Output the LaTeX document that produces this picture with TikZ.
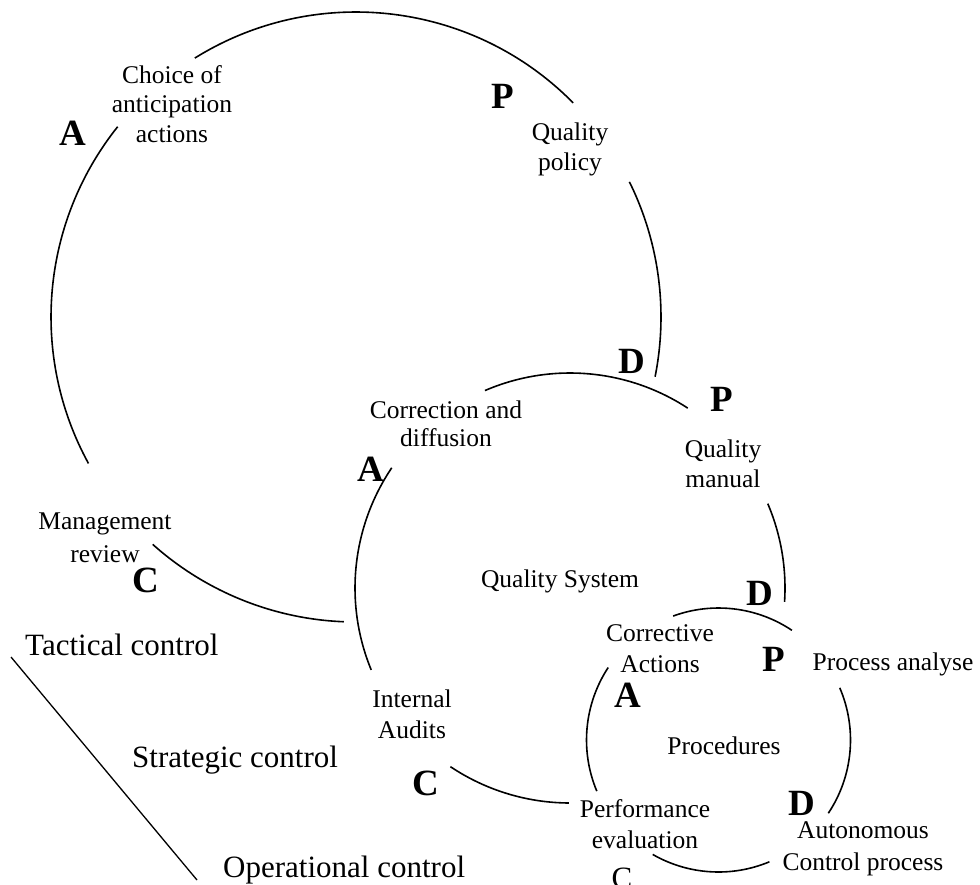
\documentclass[tikz,border=0pt]{standalone}
\usepackage{fontspec}
\setmainfont{Liberation Serif}
\begin{document}
\begin{tikzpicture}[x=1pt,y=-1pt,
  arcline/.style={line width=1.6pt},
  lbl/.style={font=\fontsize{25.5}{31}\selectfont, align=center, inner sep=0pt, anchor=base},
  biglbl/.style={font=\fontsize{31}{36}\selectfont, inner sep=0pt, anchor=base west},
  pdca/.style={font=\fontsize{37}{40}\selectfont\bfseries, inner sep=0pt, anchor=base}]
\useasboundingbox (0,0) rectangle (980,884);
% circle centres
\coordinate (oc) at (356,317);
\coordinate (mc) at (570,588);
\coordinate (sc) at (718.5,740);
% outer circle
\draw[arcline] ([shift={(-121.9:305)}]oc) arc[start angle=-121.9, end angle=-44.6, radius=305];
\draw[arcline] ([shift={(-26.3:305)}]oc) arc[start angle=-26.3, end angle=11.3, radius=305];
\draw[arcline] ([shift={(-141.4:305)}]oc) arc[start angle=-141.4, end angle=-208.7, radius=305];
\draw[arcline] ([shift={(131.8:305)}]oc) arc[start angle=131.8, end angle=92.3, radius=305];
% middle circle
\draw[arcline] ([shift={(-113.3:215)}]mc) arc[start angle=-113.3, end angle=-56.8, radius=215];
\draw[arcline] ([shift={(-146:215)}]mc) arc[start angle=-146, end angle=-202.4, radius=215];
\draw[arcline] ([shift={(-23.1:215)}]mc) arc[start angle=-23.1, end angle=3.7, radius=215];
\draw[arcline] ([shift={(123.8:215)}]mc) arc[start angle=123.8, end angle=90.3, radius=215];
% small circle
\draw[arcline] ([shift={(-110.1:132)}]sc) arc[start angle=-110.1, end angle=-56.2, radius=132];
\draw[arcline] ([shift={(-146.7:132)}]sc) arc[start angle=-146.7, end angle=-202.8, radius=132];
\draw[arcline] ([shift={(-23.3:132)}]sc) arc[start angle=-23.3, end angle=33.7, radius=132];
\draw[arcline] ([shift={(119.9:132)}]sc) arc[start angle=119.9, end angle=67.3, radius=132];
% separator line
\coordinate (ls) at (11,657);
\coordinate (le) at (197,880);
\draw[line width=1.3pt] (ls) -- (le);
% PDCA letters
\node[pdca] (oA) at (73,145) {A};
\node[pdca] (oP) at (503,108) {P};
\node[pdca] (oD) at (632,373) {D};
\node[pdca] (oC) at (146,592) {C};
\node[pdca] (mP) at (722,411) {P};
\node[pdca] (mA) at (371,481) {A};
\node[pdca] (mD) at (760,605) {D};
\node[pdca] (mC) at (426,795) {C};
\node[pdca] (sP) at (774,671) {P};
\node[pdca] (sA) at (628,707) {A};
\node[pdca] (sD) at (802,815) {D};
\node[font=\fontsize{31}{36}\selectfont, inner sep=0pt, anchor=base] (sC) at (622,888) {C};
% labels (base anchor = baseline of last line)
\node[lbl, font=\fontsize{25.5}{29.5}\selectfont] (choice) at (172,142) {Choice of\\anticipation\\actions};
\node[lbl, font=\fontsize{25.5}{30}\selectfont] (qpol) at (570,170) {Quality\\policy};
\node[lbl, font=\fontsize{25.5}{27.5}\selectfont] (corr) at (446,446) {Correction and\\diffusion};
\node[lbl, font=\fontsize{25.5}{30}\selectfont] (qman) at (723,487) {Quality\\manual};
\node[lbl, font=\fontsize{25.5}{33}\selectfont] (mrev) at (105,562) {Management\\review};
\node[lbl] (qsys) at (560,587) {Quality System};
\node[lbl] (cact) at (660,672) {Corrective\\Actions};
\node[lbl] (pan) at (893,670) {Process analyse};
\node[lbl] (iaud) at (412,738) {Internal\\Audits};
\node[lbl] (proc) at (724,754) {Procedures};
\node[lbl] (perf) at (645,848) {Performance\\evaluation};
\node[lbl, font=\fontsize{25.5}{32}\selectfont] (auto) at (863,870) {Autonomous\\Control process};
\node[biglbl] (tac) at (25,655) {Tactical control};
\node[biglbl] (str) at (132,767) {Strategic control};
\node[biglbl] (ope) at (223,877) {Operational control};
\end{tikzpicture}
\end{document}
